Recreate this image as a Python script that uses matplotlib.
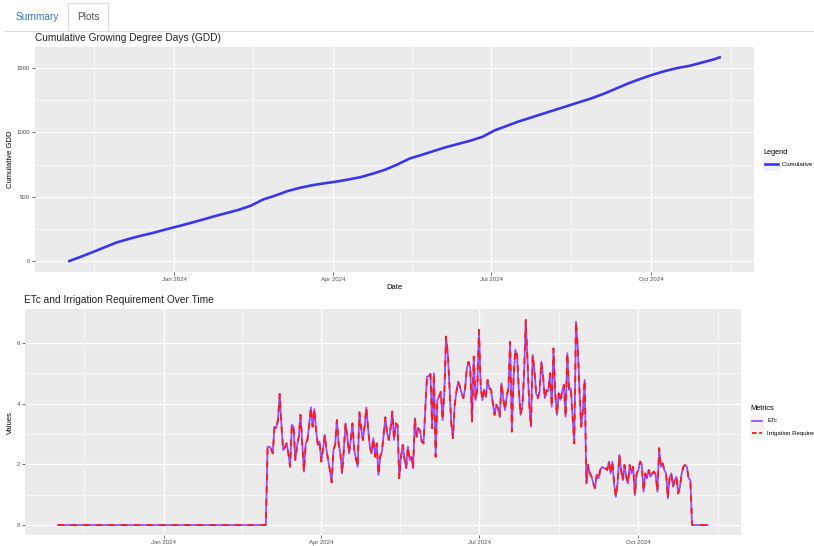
import numpy as np
import pandas as pd
import matplotlib
matplotlib.use('Agg')
import matplotlib.pyplot as plt
import matplotlib.dates as mdates
from matplotlib.lines import Line2D
from matplotlib.patches import Rectangle

plt.rcParams['font.family'] = ['Liberation Sans', 'DejaVu Sans']

W, H = 814, 546

# ── data ─────────────────────────────────────────────────────────
# cumulative GDD, read roughly weekly (days after 2023-11-01)
gdd_days = [0, 7, 14, 21, 28, 35, 42, 49, 56, 63, 70, 77, 84, 91, 98, 105,
            112, 119, 126, 133, 140, 147, 154, 161, 168, 175, 182, 189, 196,
            203, 210, 217, 224, 231, 238, 245, 252, 259, 266, 273, 280, 287,
            294, 301, 308, 315, 322, 329, 336, 343, 350, 357, 364, 371, 375]
gdd_values = [0, 35, 72, 110, 148, 175, 200, 222, 248, 272, 297, 323, 350,
              375, 400, 432, 480, 510, 545, 570, 590, 605, 618, 635, 653,
              680, 710, 750, 796, 825, 855, 885, 910, 935, 965, 1015, 1050,
              1085, 1115, 1145, 1175, 1205, 1235, 1265, 1300, 1340, 1380,
              1415, 1447, 1475, 1498, 1515, 1540, 1565, 1584]

# daily ETc per month of the 2024 season
etc_mar = [2.58, 2.58, 2.52, 2.36, 3.24, 3.19, 3.46, 4.32, 3.3, 2.47,
           2.55, 2.69, 2.36, 1.92, 3.3, 3.24, 2.14, 2.6, 2.9, 3.63,
           2.69, 1.76, 2.69, 2.8, 3.3, 3.88, 3.24, 3.82, 3.13, 2.64, 2.75]
etc_apr = [2.09, 2.5, 2.97, 2.47, 2.14, 1.8, 1.4, 2.47, 2.64,
           3.46, 2.69, 2.36, 1.7, 2.47, 3.35, 2.91, 2.36, 2.8, 3.35,
           2.47, 2.2, 1.92, 3.71, 3.2, 2.8, 3.24, 3.87, 3.2, 2.6, 2.36]
etc_may = [2.86, 2.25, 2.69, 1.65, 2.25, 2.42, 3.0, 3.55, 3.02,
           2.8, 3.19, 3.74, 2.8, 3.35, 3.3, 1.54, 2.25, 2.64, 2.2,
           1.87, 2.58, 2.14, 2.25, 1.87, 3.52, 2.91, 3.19, 3.08, 2.75,
           2.69, 3.79]
etc_jun = [4.89, 4.91, 4.98, 3.19, 5.0, 2.25, 4.12, 4.23,
           4.4, 3.46, 4.34, 6.21, 5.66, 4.56, 3.35, 2.86, 3.96, 4.4,
           4.73, 4.56, 4.34, 4.18, 4.51, 5.16, 5.38, 5.16, 3.41, 5.55,
           4.12, 4.45]
etc_jul = [6.43, 4.56, 4.12, 4.45, 4.23, 4.78, 4.51, 4.45,
           4.01, 3.63, 3.96, 3.85, 3.57, 4.67, 4.18, 3.79, 4.23, 4.51,
           6.04, 3.08, 4.89, 5.77, 5.6, 4.45, 3.63, 3.9, 4.89, 6.76,
           5.44, 4.01, 3.24]
etc_aug = [5.6, 5.11, 4.34, 4.18, 4.4, 5.38, 4.89, 4.18, 4.45, 4.4,
           5.0, 3.9, 5.82, 4.34, 3.63, 4.34, 4.12, 4.4, 4.62, 3.57,
           5.66, 4.45, 4.51, 3.57, 2.69, 6.7, 5.88, 4.45, 3.24, 3.79, 4.78]
etc_sep = [1.37, 1.98, 1.7, 1.59, 1.37, 1.21, 1.65, 1.54, 1.81, 1.92,
           1.87, 1.87, 1.81, 2.09, 1.7, 2.09, 1.37, 0.93, 1.37, 2.31,
           1.81, 1.48, 1.98, 1.59, 1.37, 1.98, 1.7, 1.92, 0.99, 1.7]
etc_oct = [1.81, 2.09, 1.98, 1.1, 1.7, 1.54, 1.81, 1.59, 1.7, 1.76,
           1.65, 1.1, 2.53, 1.92, 2.03, 1.81, 1.7, 0.88, 1.54, 1.7,
           1.26, 1.48, 1.59, 1.04, 1.26, 1.7, 1.92, 1.98, 1.92, 1.54, 1.48]
season_months = ['2024-03-01', '2024-04-01', '2024-05-01', '2024-06-01',
                 '2024-07-01', '2024-08-01', '2024-09-01', '2024-10-01']

# ── build series ─────────────────────────────────────────────────
start = pd.Timestamp('2023-11-01')
gdd_dates = start + pd.to_timedelta(gdd_days, unit='D')

pre = pd.Series(0.0, index=pd.date_range('2023-11-01', '2024-02-29'))
post = pd.Series(0.0, index=pd.date_range('2024-11-01', '2024-11-10'))
parts = [pre]
for m, vals in zip(season_months, [etc_mar, etc_apr, etc_may, etc_jun,
                                   etc_jul, etc_aug, etc_sep, etc_oct]):
    parts.append(pd.Series(vals, index=pd.date_range(m, periods=len(vals))))
parts.append(post)
etc = pd.concat(parts)
irrigation = etc.copy()

xlim = (pd.Timestamp('2023-10-13'), pd.Timestamp('2024-11-29'))
majors = pd.to_datetime(['2023-10-01', '2024-01-01', '2024-04-01',
                         '2024-07-01', '2024-10-01', '2025-01-01'])
minors = majors[:-1] + (majors[1:] - majors[:-1]) / 2

# ── figure ───────────────────────────────────────────────────────
fig = plt.figure(figsize=(W / 100, H / 100), dpi=100)
fig.patch.set_facecolor('white')


def fx(x):
    return x / W


def fy(y):
    return 1 - y / H


def style(ax):
    ax.set_facecolor('#EBEBEB')
    for s in ax.spines.values():
        s.set_visible(False)
    ax.xaxis.set_major_locator(mdates.MonthLocator(bymonth=[1, 4, 7, 10]))
    ax.xaxis.set_major_formatter(mdates.DateFormatter('%b %Y'))
    ax.set_xticks(minors, minor=True)
    ax.grid(which='major', color='white', lw=0.9)
    ax.grid(which='minor', color='white', lw=0.45)
    ax.set_axisbelow(True)
    ax.tick_params(which='major', length=2, width=0.5, color='#333333',
                   labelsize=4.3, labelcolor='#4D4D4D', pad=1.5)
    ax.tick_params(which='minor', length=0)


# top panel
ax1 = fig.add_axes([fx(35), fy(271.7), fx(754 - 35), (271.7 - 46.7) / H])
style(ax1)
ax1.plot(gdd_dates, gdd_values, color='#3b36e8', lw=1.9, solid_capstyle='butt')
ax1.set_xlim(xlim)
ax1.set_ylim(-79, 1663)
ax1.set_yticks([0, 500, 1000, 1500])
ax1.set_yticks([250, 750, 1250], minor=True)
ax1.set_xlabel('Date', fontsize=5.5, labelpad=2)
ax1.set_ylabel('Cumulative GDD', fontsize=5.5, labelpad=2)
fig.text(fx(35), fy(38), 'Cumulative Growing Degree Days (GDD)',
         fontsize=7.3, va='center', ha='left', color='#222222')

# bottom panel
ax2 = fig.add_axes([fx(25), fy(535.3), fx(740.6 - 25), (535.3 - 309) / H])
style(ax2)
ax2.plot(etc.index, etc.values, color='#9b4dff', lw=1.3)
ax2.plot(irrigation.index, irrigation.values, color='#ff1a1a', lw=1.3,
         dashes=(3.5, 3.5))
ax2.set_xlim(xlim)
ax2.set_ylim(-0.34, 7.12)
ax2.set_yticks([0, 2, 4, 6])
ax2.set_yticks([1, 3, 5], minor=True)
ax2.set_ylabel('Values', fontsize=5.5, labelpad=2)
fig.text(fx(24), fy(300), 'ETc and Irrigation Requirement Over Time',
         fontsize=7.3, va='center', ha='left', color='#222222')

# legends (drawn in figure space, clipped by the right edge)
fig.text(fx(763), fy(152), 'Legend', fontsize=5.3, va='center', ha='left')
fig.add_artist(Rectangle((fx(763), fy(171)), fx(17), 14 / H,
                         transform=fig.transFigure, facecolor='#F2F2F2',
                         edgecolor='none'))
fig.add_artist(Line2D([fx(765), fx(778)], [fy(164), fy(164)],
                      transform=fig.transFigure, color='#3b36e8', lw=1.9))
fig.text(fx(782), fy(164), 'Cumulative GDD', fontsize=4.3, va='center',
         ha='left')

fig.text(fx(750), fy(409), 'Metrics', fontsize=5.3, va='center', ha='left')
for yy, lab, col, ls in [(421, 'ETc', '#9b4dff', '-'),
                         (433, 'Irrigation Requirement', '#ff1a1a', '--')]:
    fig.add_artist(Rectangle((fx(750), fy(yy + 6)), fx(14), 12 / H,
                             transform=fig.transFigure, facecolor='#F2F2F2',
                             edgecolor='none'))
    fig.add_artist(Line2D([fx(752), fx(762)], [fy(yy), fy(yy)],
                          transform=fig.transFigure, color=col, lw=1.3,
                          ls=ls, dashes=(2.5, 1.5) if ls == '--' else (None, None)))
    fig.text(fx(767), fy(yy), lab, fontsize=4.3, va='center', ha='left')

# tab bar of the app
fig.add_artist(Line2D([fx(5), fx(68)], [fy(30.5), fy(30.5)],
                      transform=fig.transFigure, color='#DDDDDD', lw=0.8))
fig.add_artist(Line2D([fx(108), fx(814)], [fy(30.5), fy(30.5)],
                      transform=fig.transFigure, color='#DDDDDD', lw=0.8))
fig.add_artist(Rectangle((fx(68), fy(31)), fx(40), 28 / H,
                         transform=fig.transFigure, facecolor='white',
                         edgecolor='#DDDDDD', lw=0.8))
fig.text(fx(37), fy(17), 'Summary', fontsize=7.3, color='#337AB7',
         va='center', ha='center')
fig.text(fx(88), fy(17), 'Plots', fontsize=7.3, color='#555555',
         va='center', ha='center')

fig.savefig('out.png', dpi=100)
